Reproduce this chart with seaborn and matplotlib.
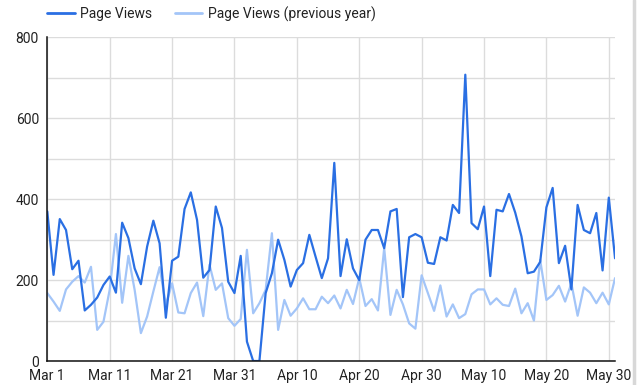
import numpy as np
import pandas as pd
import matplotlib
matplotlib.use("Agg")
import matplotlib.pyplot as plt
import matplotlib.dates as mdates
from matplotlib.lines import Line2D
import seaborn as sns

dates = pd.date_range("2020-03-01", "2020-05-31", freq="D")

page_views = [
    370, 213, 351, 324, 227, 248, 125, 139, 157, 188,
    209, 169, 342, 304, 229, 190, 283, 347, 291, 107,
    248, 258, 376, 417, 349, 206, 225, 382, 329, 196,
    168, 260, 48, 0, 0, 168, 217, 300, 250, 184,
    225, 242, 312, 258, 205, 254, 490, 210, 301, 229,
    200, 300, 324, 324, 279, 370, 376, 158, 306, 314,
    306, 243, 240, 306, 298, 386, 366, 708, 341, 326,
    382, 210, 374, 370, 413, 367, 308, 217, 221, 245,
    380, 428, 242, 285, 177, 386, 324, 316, 366, 224,
    404, 254,
]

page_views_prev = [
    168, 147, 124, 177, 196, 210, 194, 233, 77, 97,
    176, 314, 144, 260, 176, 69, 110, 172, 232, 139,
    192, 120, 118, 168, 194, 111, 238, 176, 192, 106,
    87, 104, 275, 118, 143, 176, 316, 77, 151, 112,
    130, 155, 128, 128, 159, 143, 162, 130, 176, 141,
    205, 136, 153, 125, 279, 114, 176, 140, 93, 80,
    212, 168, 124, 187, 110, 140, 106, 116, 165, 177,
    177, 140, 155, 139, 136, 179, 118, 143, 100, 250,
    151, 163, 186, 147, 192, 112, 182, 169, 143, 169,
    140, 205,
]

series_names = ["Page Views", "Page Views (previous year)"]
colors = ["#2a6fe3", "#a3c5f8"]

df = pd.DataFrame({
    "date": list(dates) * 2,
    "value": page_views + page_views_prev,
    "series": [series_names[0]] * len(dates) + [series_names[1]] * len(dates),
})

sns.set_theme(style="white")
plt.rcParams["font.family"] = ["Roboto", "DejaVu Sans"]

fig = plt.figure(figsize=(6.4, 3.85), dpi=100)
ax = fig.add_axes([0.0739, 0.0623, 0.961 - 0.0739, 0.9026 - 0.0623])

sns.lineplot(data=df, x="date", y="value", hue="series",
             hue_order=[series_names[1], series_names[0]],
             palette={series_names[0]: colors[0], series_names[1]: colors[1]},
             linewidth=1.6, ax=ax, legend=False)

ax.set_xlim(dates[0], dates[-1])
ax.set_ylim(0, 800)
ax.set_xlabel("")
ax.set_ylabel("")

yt = np.arange(0, 801, 100)
ax.set_yticks(yt)
ax.set_yticklabels([str(v) if v % 200 == 0 else "" for v in yt])
xt = pd.date_range("2020-03-01", "2020-05-30", freq="10D")
ax.set_xticks(xt)
ax.xaxis.set_major_formatter(mdates.DateFormatter("%b %-d"))

ax.grid(True, color="#dcdcdc", linewidth=1)
ax.set_axisbelow(True)
ax.tick_params(axis="both", length=0, labelsize=10, colors="#222222", pad=6)
for s in ["top", "right"]:
    ax.spines[s].set_visible(False)
for s in ["left", "bottom"]:
    ax.spines[s].set_color("#111111")
    ax.spines[s].set_linewidth(1.1)

handles = [Line2D([0], [0], color=colors[0], lw=2),
           Line2D([0], [0], color=colors[1], lw=2)]
fig.legend(handles, series_names, loc="center left",
           bbox_to_anchor=(47 / 640, 1 - 14 / 385), ncol=2, frameon=False,
           fontsize=10, handlelength=2.0, handletextpad=0.4,
           columnspacing=1.6, borderpad=0, borderaxespad=0,
           labelcolor="#222222")

fig.add_artist(Line2D([634 / 640, 634 / 640], [0, 1], color="#d8d8d8", lw=2.5))

fig.savefig("out.png", dpi=100)
